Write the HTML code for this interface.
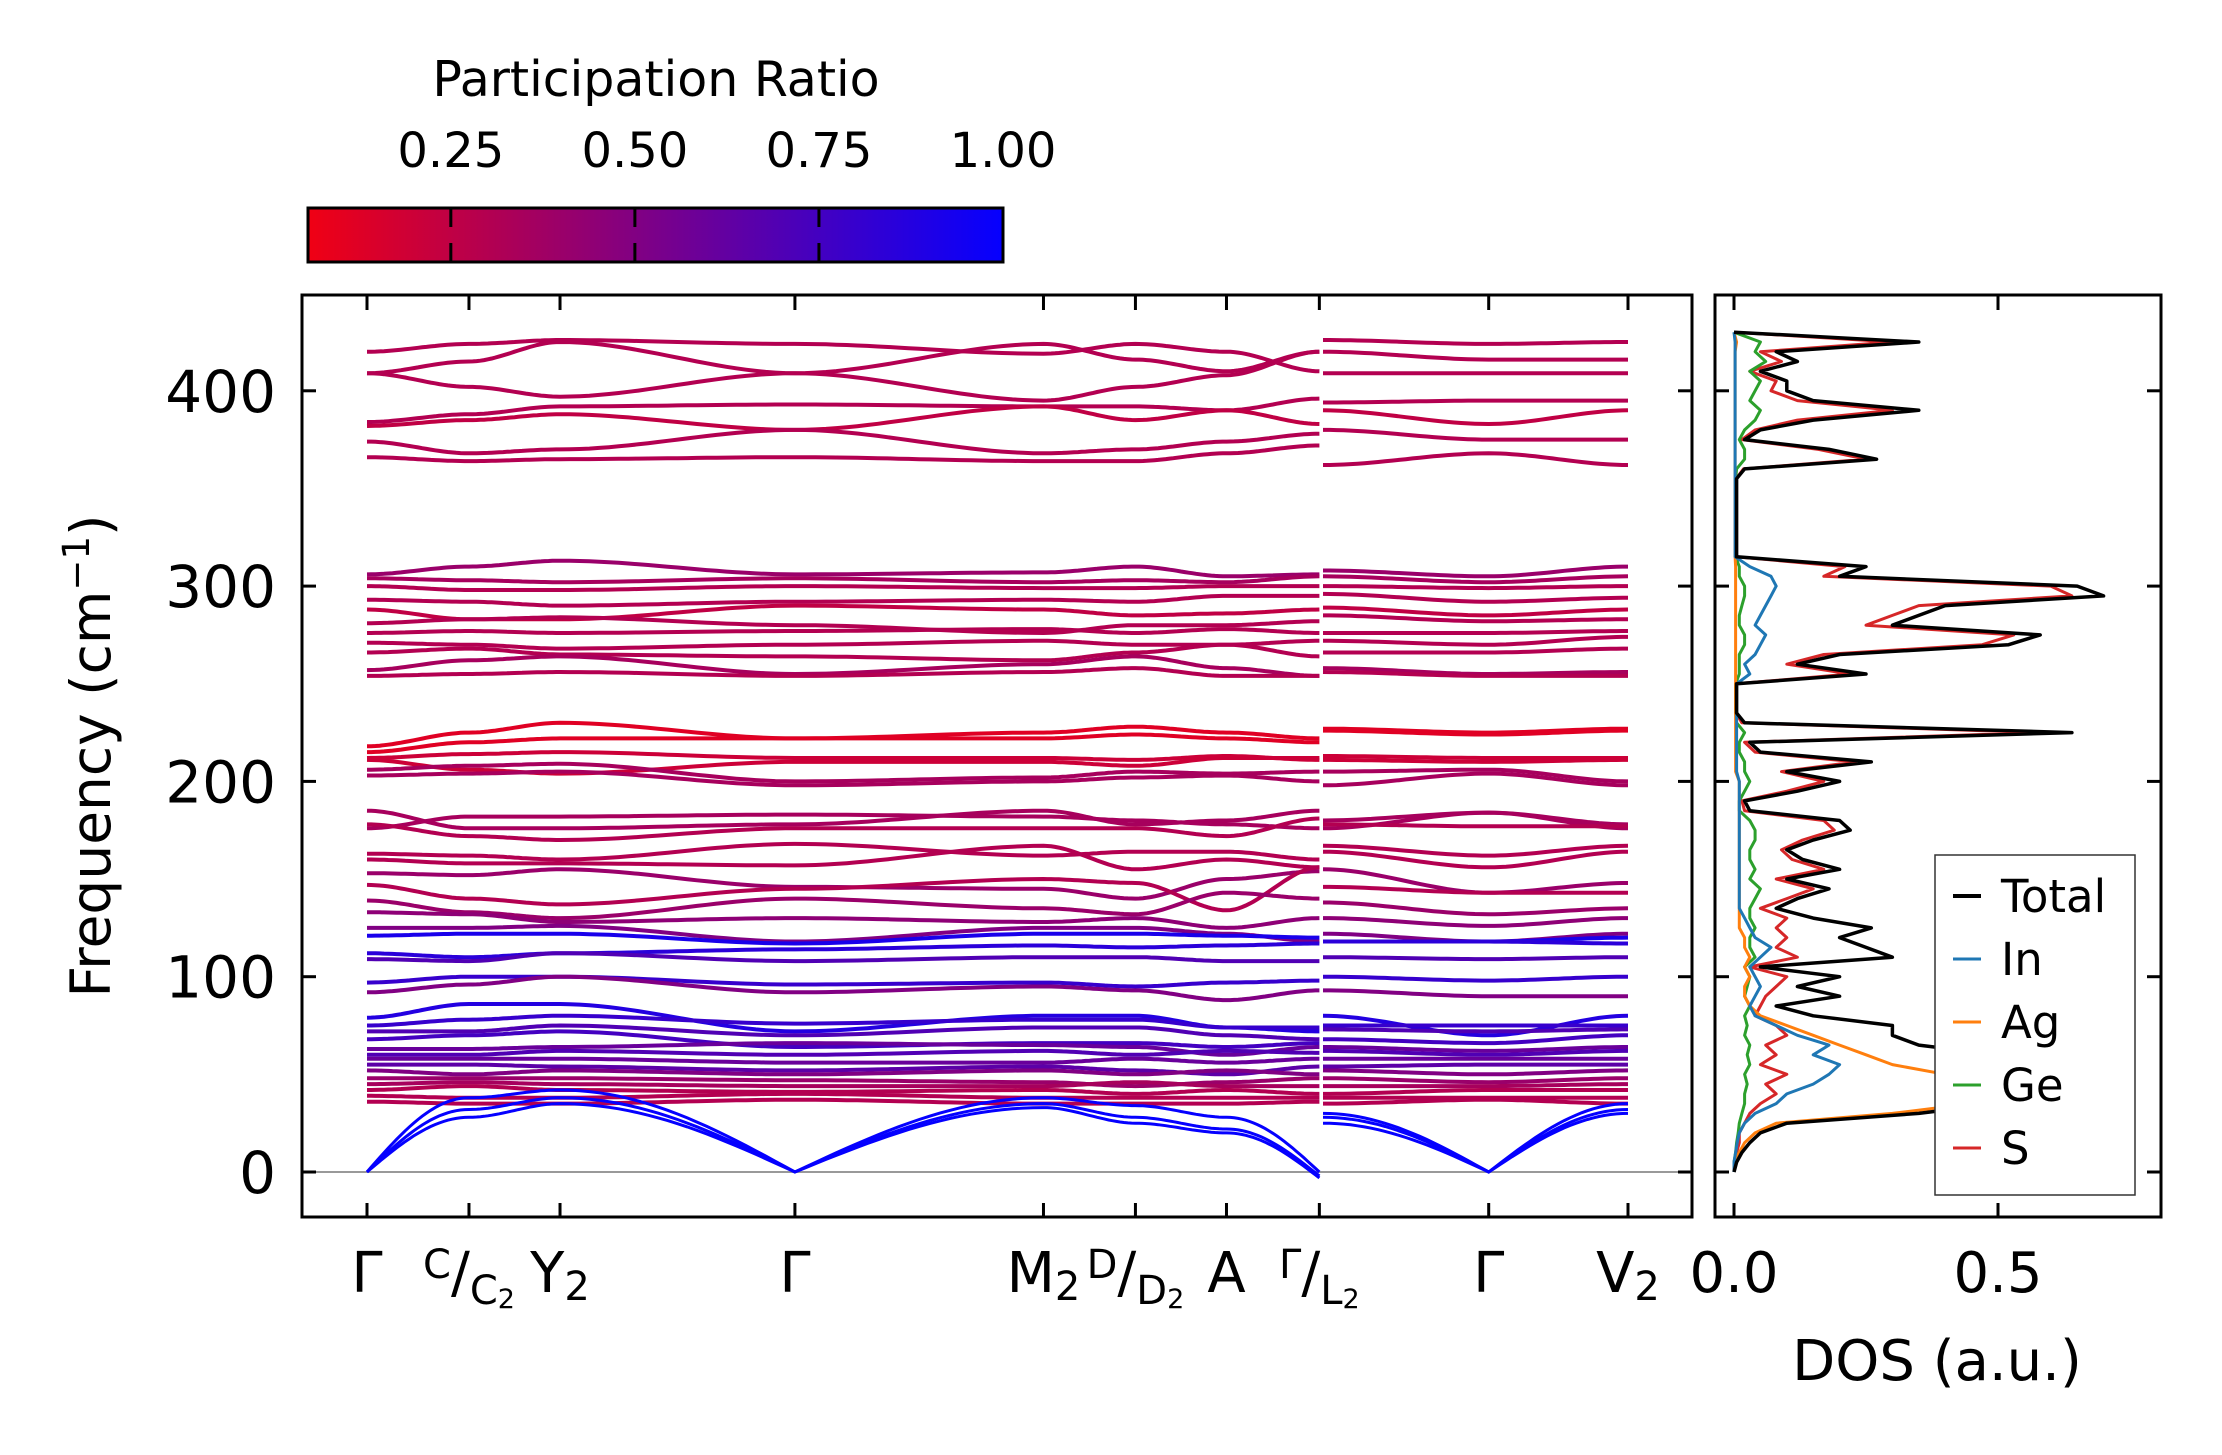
<!DOCTYPE html>
<html><head><meta charset="utf-8"><style>
html,body{margin:0;padding:0;background:#fff}
svg{display:block;font-family:"DejaVu Sans","Liberation Sans",sans-serif}
</style></head><body>
<svg id="fig" width="2222" height="1455" viewBox="0 0 2222 1455" xmlns="http://www.w3.org/2000/svg">
<defs>
<linearGradient id="cbgrad" x1="0" x2="1" y1="0" y2="0">
<stop offset="0" stop-color="rgb(240,0,20)"/><stop offset="1" stop-color="rgb(5,0,255)"/>
</linearGradient>
<clipPath id="mainclip"><rect x="302" y="295" width="1390" height="922"/></clipPath>
<clipPath id="dosclip"><rect x="1715" y="295" width="446" height="922"/></clipPath>
</defs>
<g id="colorbar">
<text x="656" y="96" font-size="49" text-anchor="middle">Participation Ratio</text>
<rect x="308" y="208" width="695" height="54" fill="url(#cbgrad)" stroke="#000" stroke-width="3"/>
<g id="cbticks"></g>
</g>
<g id="main">
<line x1="302" x2="1692" y1="1172" y2="1172" stroke="#999" stroke-width="2"/>
<g id="bands" clip-path="url(#mainclip)"></g>
<rect x="302" y="295" width="1390" height="922" fill="none" stroke="#000" stroke-width="3"/>
<g id="mainticks"></g>
<text transform="translate(110,756) rotate(-90)" font-size="55" text-anchor="middle">Frequency (cm<tspan baseline-shift="super" font-size="37">−1</tspan>)</text>
</g>
<g id="dos">
<g id="doslines" clip-path="url(#dosclip)"></g>
<rect x="1715" y="295" width="446" height="922" fill="none" stroke="#000" stroke-width="3"/>
<g id="dosticks"></g>
<text x="1937" y="1380" font-size="56" text-anchor="middle">DOS (a.u.)</text>
<g id="legend">
<rect x="1935" y="855" width="200" height="340" fill="#fff" stroke="#333" stroke-width="1.5"/>
</g>
</g>
</svg>
<script>
const NS="http://www.w3.org/2000/svg";
// ---------- data ----------
const kLabelsLeft=["Γ","C/C2","Y2","Γ","M2","D/D2","A","Γ/L2"];
const kLabelsRight=["L2","Γ","V2"];
const kPosLeft=[0,1.12,2.12,4.7,7.43,8.44,9.44,10.46];
const kPosRight=[10.5,12.32,13.85];
const yTicks=[0,100,200,300,400];
const cbTicks=[0.25,0.50,0.75,1.00];
const cbTickLabels=["0.25","0.50","0.75","1.00"];
// each band: 8 values on left path, 3 on right path
const bandLeft=[
[420,424,426,424,419,424,420,410],[409,402,397,409,424,416,410,420],[409,415,425,409,395,402,408,420],
[384,388,392,393,392,392,390,396],[382,385,388,380,392,385,390,383],[374,368,370,380,368,370,374,378],[366,364,365,366,364,364,368,372],
[306,310,313,306,307,310,305,306],[304,303,302,304,302,303,302,305],[300,298,298,300,299,299,300,300],[293,292,290,292,293,292,295,295],
[288,283,283,290,288,285,286,288],[281,283,284,280,276,280,280,282],[276,277,276,277,278,276,278,276],[271,270,268,270,272,270,270,272],
[266,268,265,264,262,266,270,264],[257,262,264,255,260,264,258,254],[254,255,256,254,256,258,254,254],
[218,225,230,222,225,228,225,222],[215,220,222,222,222,224,222,220],[212,214,215,212,212,211,213,211],[211,206,204,210,210,208,212,212],
[206,208,209,200,202,205,204,205],[203,204,205,198,200,202,203,200],
[185,176,176,178,185,178,180,185],[176,182,182,183,182,180,178,176],[178,172,170,176,176,176,172,181],
[163,162,160,168,162,164,164,160],[160,158,158,157,167,155,160,156],[153,152,155,146,145,140,150,154],[147,140,137,145,150,148,134,156],
[139,133,130,140,135,132,143,140],[133,132,128,130,128,130,125,130],[125,125,126,118,125,125,122,118],[121,122,122,117,122,122,121,120],
[112,110,112,114,116,115,116,117],[109,108,112,108,110,110,108,108],[97,100,100,96,97,95,97,98],[92,96,100,92,95,93,88,93],
[79,86,86,72,80,80,74,72],[75,78,80,76,78,78,74,74],[72,72,75,70,74,74,70,68],[68,70,72,64,66,66,64,66],[63,63,64,66,65,64,60,64],
[60,60,62,60,62,60,62,61],[58,58,58,56,56,58,56,58],[55,55,54,52,54,52,50,54],[52,50,52,50,52,50,52,50],[48,48,48,47,46,44,46,48],
[45,46,45,44,44,46,44,44],[42,44,42,41,42,40,42,40],[39,38,38,40,38,38,38,38],[36,35,35,37,35,35,35,36],
[0,38,42,0,38,34,28,0],[0,32,38,0,35,28,22,-2],[0,28,35,0,33,25,20,-3]
];
const bandRight=[
[426,424,425],[420,416,416],[409,409,409],[394,395,395],[390,383,390],[380,375,375],[362,368,362],
[308,305,310],[305,302,305],[300,299,300],[296,292,294],[289,285,288],[285,282,283],[276,276,277],[272,270,274],
[266,266,268],[258,255,256],[256,254,254],
[227,225,227],[226,224,226],[213,212,212],[211,210,211],[205,206,200],[198,204,198],
[176,184,176],[180,184,178],[178,177,177],[167,162,167],[164,156,164],[155,143,148],[146,143,143],
[138,132,135],[130,126,130],[122,118,122],[118,118,120],[118,118,117],[110,109,110],[100,98,100],[93,90,90],
[80,70,80],[75,75,75],[73,72,73],[68,66,70],[64,62,64],[62,60,62],[58,58,58],[54,55,55],[52,50,52],[48,46,48],
[44,44,45],[40,42,42],[38,38,38],[35,37,35],
[30,0,35],[28,0,32],[25,0,30]
];
const bandPR=[0.3,0.3,0.3,0.3,0.25,0.3,0.3,
0.4,0.35,0.3,0.3,0.25,0.3,0.3,0.3,0.3,0.35,0.3,
0.12,0.12,0.2,0.2,0.35,0.35,
0.35,0.35,0.3,0.3,0.3,0.4,0.3,0.4,0.45,0.5,0.92,
0.85,0.7,0.8,0.5,0.88,0.8,0.7,0.75,0.6,0.7,0.6,0.65,0.5,0.4,0.35,0.3,0.3,0.3,
1.0,1.0,1.0];
// DOS sampled every 5 cm-1 from 0 to 430
const dosFreq=[];for(let f=0;f<=430;f+=5)dosFreq.push(f);
const dosTotal=[0,.005,.015,.03,.05,.1,.35,.5,.55,.7,.6,.45,.5,.35,.3,.3,.15,.08,.2,.12,.2,.05,.3,.25,.2,.26,.15,.08,.12,.18,.1,.2,.13,.1,.15,.22,.2,.03,.02,.12,.2,.1,.26,.05,.03,.64,.02,.005,.005,.005,.005,.25,.12,.2,.52,.58,.3,.35,.4,.7,.65,.2,.25,.005,.005,.005,.005,.005,.005,.005,.005,.005,.02,.27,.18,.02,.05,.15,.35,.15,.1,.1,.05,.12,.08,.35,0];
const dosS=[0,0,.005,.01,.01,.02,.03,.05,.08,.06,.1,.05,.08,.06,.1,.08,.04,.05,.06,.08,.1,.03,.12,.08,.1,.08,.1,.05,.1,.15,.08,.17,.11,.09,.13,.19,.17,.02,.015,.1,.17,.09,.23,.04,.02,.58,.015,.004,.004,.004,.004,.22,.1,.17,.47,.53,.25,.3,.35,.64,.6,.17,.21,.004,.004,.004,.004,.004,.004,.004,.004,.004,.018,.25,.16,.015,.04,.12,.3,.12,.07,.08,.03,.09,.05,.3,0];
const dosIn=[0,0,.003,.006,.01,.02,.04,.08,.1,.15,.18,.2,.15,.18,.12,.08,.04,.03,.04,.05,.04,.03,.05,.07,.04,.03,.02,.01,.01,.01,.01,.01,.01,.01,.01,.01,.01,.01,.01,.01,.01,.005,.005,.005,.005,.005,.005,.005,.005,.005,.005,.03,.02,.04,.05,.06,.04,.05,.06,.07,.08,.07,.03,.002,.002,.002,.002,.002,.002,.002,.002,.002,.002,.002,.002,.002,.002,.002,.002,.002,.002,.002,.002,.002,.002,.002,0];
const dosAg=[0,0,.01,.02,.04,.08,.3,.45,.6,.55,.4,.3,.25,.2,.15,.1,.05,.03,.02,.02,.03,.02,.03,.02,.02,.01,.01,.01,.01,.01,.01,.01,.01,.01,.01,.01,.01,.01,.01,.01,.01,.003,.003,.003,.003,.003,.003,.003,.003,.003,.003,.003,.003,.003,.003,.003,.003,.003,.003,.003,.003,.003,.003,.002,.002,.002,.002,.002,.002,.002,.002,.002,.002,.002,.002,.002,.002,.002,.002,.002,.002,.002,.002,.002,.002,.005,0];
const dosGe=[0,0,.003,.005,.008,.01,.015,.02,.02,.025,.02,.03,.025,.03,.02,.025,.02,.03,.02,.025,.03,.02,.04,.03,.03,.04,.03,.03,.04,.05,.03,.04,.03,.03,.04,.04,.03,.01,.01,.02,.03,.02,.02,.01,.01,.02,.005,.003,.003,.003,.003,.01,.01,.01,.02,.02,.01,.01,.015,.02,.02,.01,.01,.003,.003,.003,.003,.003,.003,.003,.003,.003,.005,.02,.02,.01,.02,.04,.05,.03,.04,.05,.03,.06,.04,.05,0];
const dosSeries=[["Total",dosTotal,"#000"],["In",dosIn,"#1f77b4"],["Ag",dosAg,"#ff7f0e"],["Ge",dosGe,"#2ca02c"],["S",dosS,"#d62728"]];
// ---------- axes ----------
const kMin=0,kMax=13.85, xL=367, xR=1628;
const xK=k=>xL+(k-kMin)/(kMax-kMin)*(xR-xL);
const yF=f=>1172-f*1.953;
const xD=d=>1734+d*528;
const cbX=p=>308+(p-0.056)/(1-0.056)*695;
function prColor(p){const t=Math.max(0,Math.min(1,(p-0.056)/(1-0.056)));return `rgb(${Math.round(240*(1-t)+5*t)},0,${Math.round(20+235*t)})`;}
function mk(tag,attrs,parent){const e=document.createElementNS(NS,tag);for(const k in attrs)e.setAttribute(k,attrs[k]);parent.appendChild(e);return e;}
// colorbar ticks
const cbt=document.getElementById('cbticks');
cbTicks.forEach((v,i)=>{const x=cbX(v);
 if(v<0.99){let l=mk('line',{x1:x,x2:x,y1:209,y2:227,stroke:'#000','stroke-width':3},cbt);
 
 l=mk('line',{x1:x,x2:x,y1:243,y2:261,stroke:'#000','stroke-width':3},cbt);
 }
 const t=mk('text',{x:x,y:167,'font-size':48,'text-anchor':'middle'},cbt);t.textContent=cbTickLabels[i];
 
});
// bands
function ease(a,b,t,aco){
 if(aco&&a<=0&&b>0)return a+(b-a)*Math.sin(t*Math.PI/2);
 if(aco&&b<=0&&a>0)return b+(a-b)*Math.sin((1-t)*Math.PI/2);
 const s=t*t*(3-2*t);return a+(b-a)*s;}
function pathFor(vals,ks,aco){let d='';
 for(let i=0;i<vals.length-1;i++){for(let j=0;j<=24;j++){if(i>0&&j==0)continue;const t=j/24;
  const k=ks[i]+(ks[i+1]-ks[i])*t;const v=ease(vals[i],vals[i+1],t,aco);
  d+=(d?'L':'M')+xK(k).toFixed(1)+' '+yF(v).toFixed(1);}}
 return d;}
const bg=document.getElementById('bands');
bandLeft.forEach((vals,i)=>{const aco=vals.some(v=>v<=0);const c=prColor(bandPR[i]);
 let p=mk('path',{d:pathFor(vals,kPosLeft,aco),fill:'none',stroke:c,'stroke-width':aco?3:4},bg);
 
 p=mk('path',{d:pathFor(bandRight[i],kPosRight,aco),fill:'none',stroke:c,'stroke-width':aco?3:4},bg);
 
});
// main ticks
const mt=document.getElementById('mainticks');
yTicks.forEach(v=>{const y=yF(v);
 let l=mk('line',{x1:302,x2:316,y1:y,y2:y,stroke:'#000','stroke-width':3},mt);
 l=mk('line',{x1:1678,x2:1692,y1:y,y2:y,stroke:'#000','stroke-width':3},mt);
 const t=mk('text',{x:276,y:y+21,'font-size':58,'text-anchor':'end'},mt);t.textContent=String(v);
 
});
const allK=kPosLeft.concat([kPosRight[1],kPosRight[2]]);
allK.forEach(k=>{const x=xK(k);
 let l=mk('line',{x1:x,x2:x,y1:296,y2:310,stroke:'#000','stroke-width':3},mt);
 l=mk('line',{x1:x,x2:x,y1:1203,y2:1217,stroke:'#000','stroke-width':3},mt);
});
// k labels (hand-formatted with sub/superscripts)
const sub2='<tspan font-size="40" dy="8">2</tspan>';
const kLab=[
 [0,'<tspan>Γ</tspan>'],
 [1,'<tspan font-size="40" dy="-14">C</tspan><tspan dy="14">/</tspan><tspan font-size="40" dy="12">C</tspan><tspan font-size="27" dy="4">2</tspan>'],
 [2,'<tspan>Y</tspan>'+sub2],
 [3,'<tspan>Γ</tspan>'],
 [4,'<tspan>M</tspan>'+sub2],
 [5,'<tspan font-size="40" dy="-14">D</tspan><tspan dy="14">/</tspan><tspan font-size="40" dy="12">D</tspan><tspan font-size="27" dy="4">2</tspan>'],
 [6,'<tspan>A</tspan>'],
 [7,'<tspan font-size="40" dy="-14">Γ</tspan><tspan dy="14">/</tspan><tspan font-size="40" dy="12">L</tspan><tspan font-size="27" dy="4">2</tspan>'],
 [8,'<tspan>Γ</tspan>'],
 [9,'<tspan>V</tspan>'+sub2]];
kLab.forEach(([i,html])=>{const x=xK(allK[i]);
 const t=mk('text',{x:x,y:1292,'font-size':56,'text-anchor':'middle'},mt);t.innerHTML=html;
 
});
// DOS
const dl=document.getElementById('doslines');
dosSeries.slice().reverse().forEach(([name,arr,col])=>{let d='';
 arr.forEach((v,i)=>{d+=(i?'L':'M')+xD(v).toFixed(1)+' '+yF(dosFreq[i]).toFixed(1);});
 const p=mk('path',{d:d,fill:'none',stroke:col,'stroke-width':name==='Total'?3.5:3,'stroke-linejoin':'round'},dl);
 
});
const dt=document.getElementById('dosticks');
yTicks.forEach(v=>{const y=yF(v);
 let l=mk('line',{x1:1715,x2:1729,y1:y,y2:y,stroke:'#000','stroke-width':3},dt);
 l=mk('line',{x1:2147,x2:2161,y1:y,y2:y,stroke:'#000','stroke-width':3},dt);
});
const dosXTicks=[0,0.5];const dosXLabels=["0.0","0.5"];
dosXTicks.forEach((v,i)=>{const x=xD(v);
 let l=mk('line',{x1:x,x2:x,y1:296,y2:310,stroke:'#000','stroke-width':3},dt);
 l=mk('line',{x1:x,x2:x,y1:1203,y2:1217,stroke:'#000','stroke-width':3},dt);
 const t=mk('text',{x:x,y:1292,'font-size':56,'text-anchor':'middle'},dt);t.textContent=dosXLabels[i];
 
});
const lg=document.getElementById('legend');
dosSeries.forEach(([name,arr,col],i)=>{const y=896+i*63;
 const l=mk('line',{x1:1953,x2:1981,y1:y,y2:y,stroke:col,'stroke-width':name==='Total'?4:3},lg);
 
 const t=mk('text',{x:2001,y:y+16,'font-size':45},lg);t.textContent=name;
 
});
</script>
</body></html>
